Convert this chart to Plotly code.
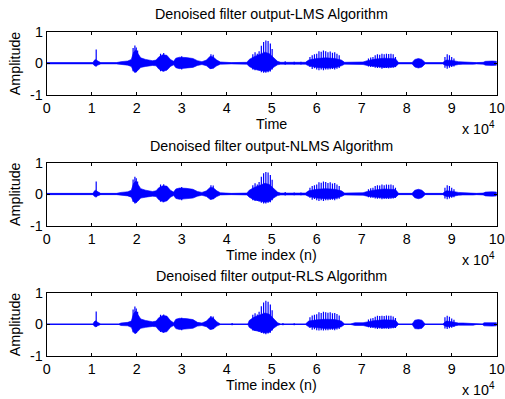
import plotly.graph_objects as go

# ---------------------------------------------------------------------------
# Denoised speech outputs of three adaptive filters (LMS, NLMS, RLS).
# Each signal is described by its amplitude envelope (upper / lower bound at
# breakpoint sample indices) plus the strongest individual pitch spikes.
# ---------------------------------------------------------------------------

# Tick labels of the sample axis (scaled by 10^4)
x_ticks = [0, 10000, 20000, 30000, 40000, 50000, 60000, 70000, 80000, 90000, 100000]
x_tick_text = ["0", "1", "2", "3", "4", "5", "6", "7", "8", "9", "10"]
y_ticks = [-1, 0, 1]

# ---- LMS ----
lms_t = [0, 10300, 10500, 10800, 11500, 12000, 15500, 16500, 18000, 18800, 19300,
         19800, 20300, 20900, 22000, 23500, 24300, 24900, 25800, 26700, 27500, 28200,
         28700, 29500, 31000, 32500, 33500, 34500, 35500, 36300, 37000, 37800, 38600,
         40000, 41000, 44500, 45000, 46000, 47500, 48500, 49500, 50500, 51300, 52000,
         57500, 58200, 60000, 62000, 64000, 65500, 66200, 70300, 71200, 73000, 75000,
         77500, 78200, 81200, 81800, 82600, 83400, 84100, 88000, 88800, 90000, 91500,
         92500, 94800, 95500, 97000, 97500, 99000, 100000]
lms_hi = [0.02, 0.02, 0.08, 0.12, 0.06, 0.02, 0.02, 0.05, 0.07, 0.12, 0.35,
          0.42, 0.30, 0.17, 0.12, 0.08, 0.10, 0.20, 0.27, 0.25, 0.12, 0.06,
          0.16, 0.19, 0.18, 0.15, 0.08, 0.05, 0.10, 0.22, 0.20, 0.10, 0.04,
          0.03, 0.02, 0.03, 0.12, 0.20, 0.28, 0.35, 0.30, 0.15, 0.06, 0.03,
          0.03, 0.10, 0.15, 0.17, 0.15, 0.10, 0.03, 0.04, 0.08, 0.13, 0.16,
          0.14, 0.02, 0.02, 0.12, 0.15, 0.12, 0.02, 0.02, 0.10, 0.09, 0.05,
          0.04, 0.03, 0.02, 0.03, 0.06, 0.07, 0.06]
lms_lo = [-0.02, -0.02, -0.06, -0.09, -0.05, -0.02, -0.02, -0.04, -0.06, -0.10, -0.25,
          -0.28, -0.22, -0.13, -0.10, -0.07, -0.08, -0.18, -0.25, -0.22, -0.10, -0.05,
          -0.14, -0.17, -0.16, -0.13, -0.07, -0.04, -0.08, -0.17, -0.16, -0.08, -0.03,
          -0.03, -0.02, -0.03, -0.10, -0.18, -0.22, -0.26, -0.24, -0.12, -0.05, -0.03,
          -0.03, -0.08, -0.13, -0.15, -0.14, -0.08, -0.03, -0.04, -0.07, -0.11, -0.13,
          -0.11, -0.02, -0.02, -0.12, -0.15, -0.12, -0.02, -0.02, -0.08, -0.08, -0.04,
          -0.03, -0.03, -0.02, -0.03, -0.06, -0.07, -0.06]
lms_spk_t = [11000, 19200, 19600, 19900, 20200, 25300, 26000, 30000, 36500, 37000,
             45800, 46300, 46800, 47200, 47700, 48200, 48700, 49200, 49700, 50100,
             53000, 55000, 56500, 58500, 59000, 59500, 60000, 60500, 61000, 61500,
             62000, 62500, 63000, 63500, 64000, 64500, 65000, 71500, 72000, 72500,
             73000, 73500, 74000, 74500, 75000, 75500, 76000, 76500, 77000, 77500,
             88500, 89000, 89500, 90000, 90500]
lms_spk_hi = [0.43, 0.48, 0.56, 0.50, 0.40, 0.30, 0.32, 0.22, 0.28, 0.27,
              0.28, 0.35, 0.30, 0.38, 0.55, 0.67, 0.72, 0.70, 0.62, 0.45,
              0.06, 0.05, 0.05, 0.20, 0.25, 0.28, 0.30, 0.38, 0.36, 0.40,
              0.38, 0.35, 0.37, 0.33, 0.35, 0.30, 0.25, 0.15, 0.18, 0.20,
              0.25, 0.28, 0.27, 0.30, 0.28, 0.30, 0.29, 0.30, 0.28, 0.20,
              0.20, 0.28, 0.25, 0.20, 0.15]
lms_spk_lo = [-0.10, -0.25, -0.30, -0.28, -0.22, -0.25, -0.26, -0.20, -0.18, -0.16,
              -0.20, -0.22, -0.22, -0.24, -0.28, -0.30, -0.30, -0.28, -0.26, -0.20,
              -0.05, -0.04, -0.04, -0.12, -0.18, -0.16, -0.20, -0.22, -0.20, -0.22,
              -0.20, -0.20, -0.19, -0.18, -0.20, -0.17, -0.15, -0.10, -0.12, -0.12,
              -0.14, -0.15, -0.14, -0.17, -0.15, -0.15, -0.16, -0.15, -0.14, -0.12,
              -0.14, -0.17, -0.14, -0.12, -0.10]

# ---- NLMS ----
nlms_t = lms_t
nlms_hi = [0.02, 0.02, 0.08, 0.12, 0.06, 0.02, 0.02, 0.05, 0.07, 0.12, 0.34,
           0.41, 0.30, 0.17, 0.12, 0.08, 0.10, 0.20, 0.26, 0.25, 0.12, 0.06,
           0.16, 0.19, 0.18, 0.15, 0.08, 0.05, 0.10, 0.21, 0.20, 0.10, 0.04,
           0.03, 0.02, 0.03, 0.12, 0.20, 0.28, 0.34, 0.30, 0.15, 0.06, 0.03,
           0.03, 0.10, 0.15, 0.17, 0.15, 0.10, 0.03, 0.04, 0.08, 0.13, 0.16,
           0.14, 0.02, 0.02, 0.12, 0.15, 0.12, 0.02, 0.02, 0.10, 0.09, 0.05,
           0.04, 0.03, 0.02, 0.03, 0.06, 0.07, 0.06]
nlms_lo = [-0.02, -0.02, -0.06, -0.09, -0.05, -0.02, -0.02, -0.04, -0.06, -0.10, -0.25,
           -0.28, -0.22, -0.13, -0.10, -0.07, -0.08, -0.18, -0.25, -0.22, -0.10, -0.05,
           -0.14, -0.17, -0.16, -0.13, -0.07, -0.04, -0.08, -0.17, -0.16, -0.08, -0.03,
           -0.03, -0.02, -0.03, -0.10, -0.18, -0.22, -0.26, -0.24, -0.12, -0.05, -0.03,
           -0.03, -0.08, -0.13, -0.15, -0.14, -0.08, -0.03, -0.04, -0.07, -0.11, -0.13,
           -0.11, -0.02, -0.02, -0.12, -0.15, -0.12, -0.02, -0.02, -0.08, -0.08, -0.04,
           -0.03, -0.03, -0.02, -0.03, -0.06, -0.07, -0.06]
nlms_spk_t = lms_spk_t
nlms_spk_hi = [0.40, 0.46, 0.55, 0.50, 0.40, 0.30, 0.31, 0.22, 0.28, 0.27,
               0.28, 0.34, 0.30, 0.38, 0.55, 0.66, 0.70, 0.68, 0.60, 0.45,
               0.06, 0.05, 0.05, 0.20, 0.25, 0.28, 0.30, 0.37, 0.36, 0.40,
               0.38, 0.35, 0.37, 0.33, 0.35, 0.30, 0.25, 0.15, 0.18, 0.20,
               0.25, 0.28, 0.27, 0.30, 0.28, 0.30, 0.29, 0.30, 0.28, 0.20,
               0.20, 0.28, 0.25, 0.20, 0.15]
nlms_spk_lo = lms_spk_lo

# ---- RLS ----
rls_t = [0, 10300, 10500, 10800, 11500, 12000, 16000, 16500, 18000, 18800, 19300,
         19800, 20300, 20900, 22000, 23500, 24300, 24900, 25800, 26700, 27500, 28200,
         28700, 29500, 31000, 32500, 33500, 34500, 35500, 36300, 37000, 37800, 38600,
         39000, 44700, 45000, 46000, 47500, 48500, 49500, 50500, 51300, 52000,
         57500, 58200, 60000, 62000, 64000, 65500, 66200, 67500, 68500, 70300, 71200,
         73000, 75000, 77500, 78200, 81200, 81800, 82600, 83400, 84100, 88000, 88800,
         90000, 91500, 92500, 94800, 95500, 96800, 97200, 99000, 100000]
rls_hi = [0.005, 0.005, 0.07, 0.11, 0.05, 0.005, 0.005, 0.04, 0.06, 0.10, 0.34,
          0.42, 0.30, 0.17, 0.12, 0.08, 0.10, 0.21, 0.28, 0.26, 0.12, 0.05,
          0.16, 0.19, 0.18, 0.15, 0.06, 0.04, 0.10, 0.22, 0.20, 0.08, 0.01,
          0.005, 0.005, 0.12, 0.22, 0.30, 0.36, 0.32, 0.15, 0.05, 0.005,
          0.005, 0.10, 0.14, 0.16, 0.15, 0.10, 0.005, 0.005, 0.05, 0.05, 0.08,
          0.12, 0.14, 0.13, 0.005, 0.005, 0.13, 0.15, 0.13, 0.005, 0.005, 0.10,
          0.08, 0.04, 0.04, 0.03, 0.005, 0.005, 0.05, 0.06, 0.05]
rls_lo = [-0.005, -0.005, -0.05, -0.08, -0.04, -0.005, -0.005, -0.04, -0.05, -0.10, -0.26,
          -0.30, -0.22, -0.13, -0.10, -0.07, -0.08, -0.19, -0.26, -0.24, -0.10, -0.04,
          -0.14, -0.17, -0.16, -0.13, -0.06, -0.04, -0.08, -0.17, -0.15, -0.06, -0.01,
          -0.005, -0.005, -0.10, -0.19, -0.24, -0.28, -0.26, -0.12, -0.04, -0.005,
          -0.005, -0.08, -0.12, -0.14, -0.14, -0.08, -0.005, -0.005, -0.04, -0.04, -0.07,
          -0.10, -0.12, -0.10, -0.005, -0.005, -0.14, -0.15, -0.13, -0.005, -0.005, -0.08,
          -0.07, -0.03, -0.03, -0.03, -0.005, -0.005, -0.05, -0.06, -0.05]
rls_spk_t = [11000, 19200, 19600, 19900, 20200, 25300, 26000, 30000, 36500, 37000,
             41200, 45800, 46300, 46800, 47200, 47700, 48200, 48700, 49200, 49700,
             50100, 52500, 55000, 58500, 59000, 59500, 60000, 60500, 61000, 61500,
             62000, 62500, 63000, 63500, 64000, 64500, 65000, 71500, 72000, 72500,
             73000, 73500, 74000, 74500, 75000, 75500, 76000, 76500, 77000, 77500,
             88500, 89000, 89500, 90000, 90500]
rls_spk_hi = [0.41, 0.47, 0.57, 0.50, 0.40, 0.30, 0.31, 0.21, 0.26, 0.25,
              0.04, 0.30, 0.35, 0.31, 0.40, 0.58, 0.70, 0.75, 0.72, 0.63,
              0.45, 0.04, 0.03, 0.22, 0.28, 0.30, 0.32, 0.38, 0.36, 0.40,
              0.38, 0.37, 0.38, 0.35, 0.36, 0.33, 0.28, 0.15, 0.18, 0.20,
              0.24, 0.27, 0.26, 0.27, 0.26, 0.28, 0.27, 0.27, 0.25, 0.20,
              0.22, 0.27, 0.24, 0.18, 0.14]
rls_spk_lo = [-0.09, -0.26, -0.30, -0.28, -0.22, -0.25, -0.27, -0.19, -0.17, -0.15,
              -0.03, -0.20, -0.22, -0.22, -0.24, -0.28, -0.30, -0.32, -0.30, -0.27,
              -0.20, -0.03, -0.03, -0.12, -0.18, -0.16, -0.19, -0.20, -0.19, -0.20,
              -0.19, -0.19, -0.18, -0.18, -0.19, -0.17, -0.15, -0.10, -0.12, -0.12,
              -0.14, -0.15, -0.14, -0.15, -0.14, -0.14, -0.15, -0.14, -0.13, -0.12,
              -0.14, -0.15, -0.13, -0.11, -0.09]

titles = ["Denoised filter output-LMS Algorithm",
          "Denoised filter output-NLMS Algorithm",
          "Denoised filter output-RLS Algorithm"]
x_labels = ["Time", "Time index (n)", "Time index (n)"]

panels = [
    (lms_t, lms_hi, lms_lo, lms_spk_t, lms_spk_hi, lms_spk_lo),
    (nlms_t, nlms_hi, nlms_lo, nlms_spk_t, nlms_spk_hi, nlms_spk_lo),
    (rls_t, rls_hi, rls_lo, rls_spk_t, rls_spk_hi, rls_spk_lo),
]

W, H = 505, 399
BLUE = "#0000FF"
FONT = "Liberation Sans, Arial, sans-serif"
FS = 14.3

# axes placement in pixels: (left, right) and (top, bottom) per panel
x_left, x_right = 46.7, 496.7
y_boxes = [(31.5, 95.0), (162.5, 225.5), (293.0, 355.5)]

fig = go.Figure()
annotations = []

for i, (t, hi, lo, st, shi, slo) in enumerate(panels):
    xa = "x" if i == 0 else f"x{i + 1}"
    ya = "y" if i == 0 else f"y{i + 1}"

    # baseline of the signal
    fig.add_trace(go.Scatter(x=[t[0], t[-1]], y=[0, 0], mode="lines",
                             line=dict(color=BLUE, width=1), xaxis=xa, yaxis=ya,
                             hoverinfo="skip", showlegend=False))
    # amplitude envelope as a filled band
    fig.add_trace(go.Scatter(x=list(t) + list(t)[::-1], y=list(hi) + list(lo)[::-1],
                             mode="lines", fill="toself", fillcolor=BLUE,
                             line=dict(color=BLUE, width=0.6), xaxis=xa, yaxis=ya,
                             hoverinfo="skip", showlegend=False))
    # individual pitch spikes
    sx, sy = [], []
    for tt, a, b in zip(st, shi, slo):
        sx += [tt, tt, None]
        sy += [b, a, None]
    fig.add_trace(go.Scatter(x=sx, y=sy, mode="lines",
                             line=dict(color=BLUE, width=1.2), xaxis=xa, yaxis=ya,
                             hoverinfo="skip", showlegend=False))

    top, bot = y_boxes[i]
    common = dict(showline=True, linecolor="black", linewidth=1, mirror="allticks",
                  ticks="inside", ticklen=3, tickcolor="black", tickwidth=1,
                  showgrid=False, zeroline=False, automargin=False,
                  tickfont=dict(family=FONT, size=FS, color="black"))
    fig.update_layout(**{
        ("xaxis" if i == 0 else f"xaxis{i + 1}"): dict(
            domain=[x_left / W, x_right / W], anchor=ya, range=[0, 100000],
            tickvals=x_ticks, ticktext=x_tick_text, **common),
        ("yaxis" if i == 0 else f"yaxis{i + 1}"): dict(
            domain=[1 - bot / H, 1 - top / H], anchor=xa, range=[-1, 1],
            tickvals=y_ticks, ticktext=["-1", "0", "1"], **common),
    })

    mid_x = (x_left + x_right) / 2 / W
    annotations.append(dict(text=titles[i], x=mid_x, y=1 - (top - 17) / H,
                            xref="paper", yref="paper", showarrow=False,
                            xanchor="center", yanchor="middle",
                            font=dict(family=FONT, size=FS, color="black")))
    annotations.append(dict(text=x_labels[i], x=mid_x, y=1 - (bot + 29) / H,
                            xref="paper", yref="paper", showarrow=False,
                            xanchor="center", yanchor="middle",
                            font=dict(family=FONT, size=FS, color="black")))
    annotations.append(dict(text="Amplitude", x=15 / W, y=1 - (top + bot) / 2 / H,
                            xref="paper", yref="paper", showarrow=False, textangle=-90,
                            xanchor="center", yanchor="middle",
                            font=dict(family=FONT, size=FS, color="black")))
    annotations.append(dict(text="x 10<sup>4</sup>", x=497 / W, y=1 - (bot + 33) / H,
                            xref="paper", yref="paper", showarrow=False,
                            xanchor="right", yanchor="middle",
                            font=dict(family=FONT, size=FS, color="black")))

fig.update_layout(width=W, height=H, margin=dict(l=0, r=0, t=0, b=0),
                  paper_bgcolor="white", plot_bgcolor="white",
                  annotations=annotations, showlegend=False)

fig.write_html("out.html")
